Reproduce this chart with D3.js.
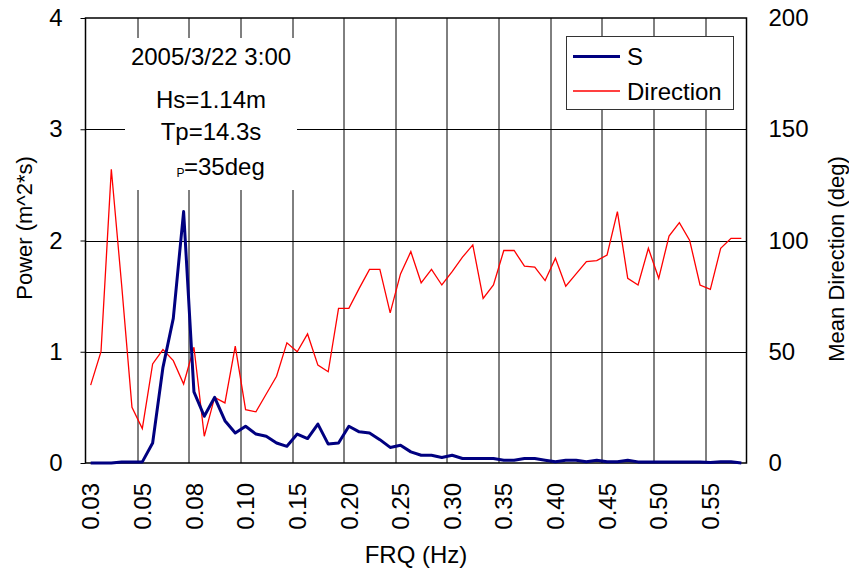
<!DOCTYPE html>
<html>
<head>
<meta charset="utf-8">
<script src="https://cdn.jsdelivr.net/npm/d3@7"></script>
<style>
  body { margin: 0; background: #fff; }
  text { font-family: "Liberation Sans", Arial, sans-serif; fill: #000; }
</style>
</head>
<body>
<div id="chart"></div>
<script>
// frequency categories (Hz)
let freqs = [
    0.030, 0.034, 0.038, 0.042, 0.046,
    0.050, 0.055, 0.060, 0.065, 0.070, 0.075, 0.080, 0.085, 0.090, 0.095, 0.100,
    0.11, 0.12, 0.13, 0.14, 0.15, 0.16, 0.17, 0.18, 0.19, 0.20,
    0.21, 0.22, 0.23, 0.24, 0.25, 0.26, 0.27, 0.28, 0.29, 0.30,
    0.31, 0.32, 0.33, 0.34, 0.35, 0.36, 0.37, 0.38, 0.39, 0.40,
    0.41, 0.42, 0.43, 0.44, 0.45, 0.46, 0.47, 0.48, 0.49, 0.50,
    0.51, 0.52, 0.53, 0.54, 0.55, 0.56, 0.57, 0.58
];

// spectrum S (m^2*s)
let powerS = [
    0, 0, 0, 0.01, 0.01, 0.01, 0.18, 0.86, 1.30, 2.26,
    0.64, 0.42, 0.59, 0.38, 0.27, 0.33, 0.26, 0.24, 0.18, 0.15,
    0.26, 0.22, 0.35, 0.17, 0.18, 0.33, 0.28, 0.27, 0.21, 0.14,
    0.16, 0.10, 0.07, 0.07, 0.05, 0.07, 0.04, 0.04, 0.04, 0.04,
    0.025, 0.025, 0.04, 0.04, 0.025, 0.012, 0.025, 0.025, 0.012, 0.025,
    0.012, 0.012, 0.025, 0.01, 0.01, 0.01, 0.01, 0.01, 0.01, 0.01,
    0.005, 0.012, 0.012, 0
];

// mean direction (deg)
let direction = [
    35, 50, 132, 80, 25, 15.5, 44.5, 51, 46, 35.5,
    52, 12, 29.5, 27, 52.5, 24, 23, 31, 39, 54,
    50, 58, 44, 41, 69.5, 69.5, 78.5, 87, 87, 67.5,
    85, 95, 81, 87, 80, 86, 92.5, 98, 74, 80,
    95.5, 95.5, 88.5, 88, 82, 92, 79.5, 85, 90.5, 91,
    93.5, 113, 83, 80, 96.5, 83, 102, 108, 100, 80,
    78, 96.5, 101, 101
];

let xTickLabels = ["0.03", "0.05", "0.08", "0.10", "0.15", "0.20", "0.25",
    "0.30", "0.35", "0.40", "0.45", "0.50", "0.55"];
let leftTicks = [0, 1, 2, 3, 4];
let rightTicks = [0, 50, 100, 150, 200];

let annotation = ["2005/3/22 3:00", "Hs=1.14m", "Tp=14.3s"];
let legendItems = [
    { name: "S", color: "#000080", width: 3 },
    { name: "Direction", color: "#ff0000", width: 1.3 }
];

let W = 849, H = 571;
let margin = { top: 18, right: 102.5, bottom: 108, left: 85.5 };
let width = W - margin.left - margin.right;
let height = H - margin.top - margin.bottom;

let svg = d3.select("#chart")
    .append("svg")
    .attr("width", W)
    .attr("height", H);

let g = svg.append("g")
    .attr("transform", "translate(" + margin.left + "," + margin.top + ")");

// scales
let x = d3.scaleBand()
    .domain(freqs)
    .range([0, width])
    .padding(0);

let yL = d3.scaleLinear().domain([0, 4]).range([height, 0]);
let yR = d3.scaleLinear().domain([0, 200]).range([height, 0]);

let cx = function (d) { return x(d) + x.bandwidth() / 2; };

// gridlines
let gridX = freqs.filter(function (d, i) { return i > 0 && i % 5 === 0; });
g.append("g").selectAll("line")
    .data(gridX)
    .enter()
    .append("line")
    .attr("x1", function (d) { return Math.round(x(d)) + 0.5; })
    .attr("x2", function (d) { return Math.round(x(d)) + 0.5; })
    .attr("y1", 0)
    .attr("y2", height)
    .attr("stroke", "#000")
    .attr("stroke-width", 1);

g.append("g").selectAll("line")
    .data(leftTicks.slice(1, -1))
    .enter()
    .append("line")
    .attr("x1", 0)
    .attr("x2", width)
    .attr("y1", function (d) { return Math.round(yL(d)) + 0.5; })
    .attr("y2", function (d) { return Math.round(yL(d)) + 0.5; })
    .attr("stroke", "#000")
    .attr("stroke-width", 1);

// annotation box (white, hides the grid)
g.append("rect")
    .attr("x", 125 - margin.left)
    .attr("y", 38 - margin.top)
    .attr("width", 172)
    .attr("height", 152)
    .attr("fill", "#fff");

// axes
let xAxis = d3.axisBottom(x)
    .tickValues(freqs.filter(function (d, i) { return i % 5 === 0; }))
    .tickSize(0)
    .tickPadding(0)
    .tickFormat(function (d, i) { return xTickLabels[i]; });

let xa = g.append("g")
    .attr("transform", "translate(0," + height + ")")
    .call(xAxis);
xa.select(".domain").remove();
xa.selectAll("text")
    .attr("transform", "rotate(-90)")
    .attr("x", -20)
    .attr("y", 0)
    .attr("dy", "0.36em")
    .style("text-anchor", "end")
    .style("font-size", "24px")
    .style("font-family", "Liberation Sans, Arial, sans-serif");

let la = g.append("g")
    .call(d3.axisLeft(yL).tickValues(leftTicks).tickSize(5).tickPadding(18).tickFormat(d3.format("d")));
la.select(".domain").remove();
la.selectAll("text")
    .style("font-size", "24px")
    .style("font-family", "Liberation Sans, Arial, sans-serif");

let ra = g.append("g")
    .attr("transform", "translate(" + width + ",0)")
    .call(d3.axisRight(yR).tickValues(rightTicks).tickSize(0).tickPadding(22).tickFormat(d3.format("d")));
ra.select(".domain").remove();
ra.selectAll("text")
    .style("font-size", "24px")
    .style("font-family", "Liberation Sans, Arial, sans-serif");

// plot border
g.append("rect")
    .attr("x", 0)
    .attr("y", 0)
    .attr("width", width)
    .attr("height", height)
    .attr("fill", "none")
    .attr("stroke", "#000")
    .attr("stroke-width", 1.5);

// series
let lineS = d3.line()
    .x(function (d, i) { return cx(freqs[i]); })
    .y(function (d) { return yL(d); });

let lineD = d3.line()
    .x(function (d, i) { return cx(freqs[i]); })
    .y(function (d) { return yR(d); });

g.append("path")
    .datum(direction)
    .attr("d", lineD)
    .attr("fill", "none")
    .attr("stroke", "#ff0000")
    .attr("stroke-width", 1.3)
    .attr("stroke-linejoin", "miter");

g.append("path")
    .datum(powerS)
    .attr("d", lineS)
    .attr("fill", "none")
    .attr("stroke", "#000080")
    .attr("stroke-width", 3)
    .attr("stroke-linejoin", "round");

// annotation text
let annY = [65, 108, 140];
svg.selectAll(".ann")
    .data(annotation)
    .enter()
    .append("text")
    .attr("class", "ann")
    .attr("x", 211)
    .attr("y", function (d, i) { return annY[i]; })
    .attr("text-anchor", "middle")
    .style("font-size", "24px")
    .text(function (d) { return d; });

svg.append("text")
    .attr("x", 176.5)
    .attr("y", 176.5)
    .style("font-size", "12px")
    .text("P");
svg.append("text")
    .attr("x", 184)
    .attr("y", 175)
    .style("font-size", "24px")
    .text("=35deg");

// legend
let lg = svg.append("g");
lg.append("rect")
    .attr("x", 566.5)
    .attr("y", 36.5)
    .attr("width", 167)
    .attr("height", 73)
    .attr("fill", "#fff")
    .attr("stroke", "#333")
    .attr("stroke-width", 1);

let legY = [56.5, 91];
lg.selectAll("line")
    .data(legendItems)
    .enter()
    .append("line")
    .attr("x1", 573)
    .attr("x2", 620)
    .attr("y1", function (d, i) { return legY[i]; })
    .attr("y2", function (d, i) { return legY[i]; })
    .attr("stroke", function (d) { return d.color; })
    .attr("stroke-width", function (d) { return d.width; });

lg.selectAll("text")
    .data(legendItems)
    .enter()
    .append("text")
    .attr("x", 627)
    .attr("y", function (d, i) { return legY[i] + 8.5; })
    .style("font-size", "24px")
    .text(function (d) { return d.name; });

// axis titles
svg.append("text")
    .attr("transform", "translate(32," + 228 + ") rotate(-90)")
    .attr("text-anchor", "middle")
    .style("font-size", "22px")
    .text("Power (m^2*s)");

svg.append("text")
    .attr("transform", "translate(844," + 259 + ") rotate(-90)")
    .attr("text-anchor", "middle")
    .style("font-size", "22px")
    .text("Mean Direction (deg)");

svg.append("text")
    .attr("x", 416)
    .attr("y", 563)
    .attr("text-anchor", "middle")
    .style("font-size", "24px")
    .text("FRQ (Hz)");
</script>
</body>
</html>
